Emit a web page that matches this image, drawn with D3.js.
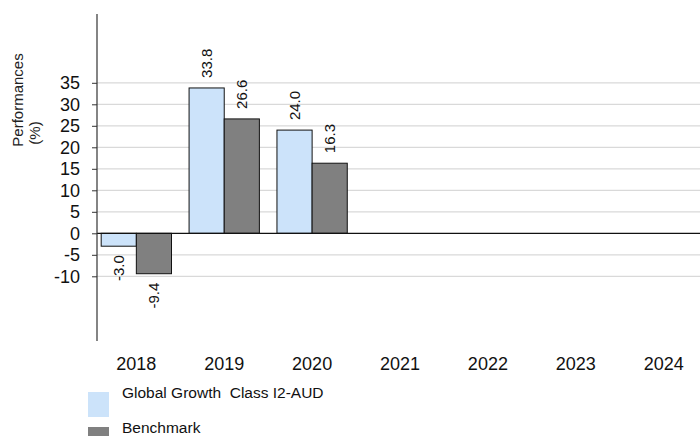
<!DOCTYPE html>
<html>
<head>
<meta charset="utf-8">
<script src="https://cdn.jsdelivr.net/npm/d3@7"></script>
<style>
  body { margin: 0; background: #fff; }
  svg { display: block; font-family: Arial, "Liberation Sans", sans-serif; }
  svg text { white-space: pre; }
</style>
</head>
<body>
<div id="chart"></div>
<script>
// values
let years = ['2018', '2019', '2020', '2021', '2022', '2023', '2024']
let fund = [-3.0, 33.8, 24.0, null, null, null, 0.0]
let bench = [-9.4, 26.6, 16.3, null, null, null, null]
let seriesNames = ['Global Growth  Class I2-AUD', 'Benchmark']
let seriesColors = ['#cce3fa', '#808080']
let yTicks = [-10, -5, 0, 5, 10, 15, 20, 25, 30, 35]

let w = 700
let h = 436
let font = 'Arial, "Liberation Sans", sans-serif'

let svg = d3.select('#chart').append('svg')
  .attr('width', w)
  .attr('height', h)

let y = d3.scaleLinear()
  .domain([-10, 35])
  .range([276.3, 82.8])

let x0 = d3.scaleBand()
  .domain(years)
  .range([92.4, 707.6])
  .paddingInner(0.2)
  .paddingOuter(0.1)

let x1 = d3.scaleBand()
  .domain([0, 1])
  .range([0, x0.bandwidth()])

let axisX = 97

// grid
svg.append('g')
  .selectAll('line')
  .data(yTicks.filter(function (d) { return d !== 0 }))
  .enter().append('line')
  .attr('x1', axisX)
  .attr('x2', w)
  .attr('y1', function (d) { return y(d) })
  .attr('y2', function (d) { return y(d) })
  .attr('stroke', '#d9d9d9')
  .attr('stroke-width', 1.2)

let rows = years.map(function (yr, i) {
  return { year: yr, values: [fund[i], bench[i]] }
})

let group = svg.append('g')
  .selectAll('g')
  .data(rows)
  .enter().append('g')
  .attr('transform', function (d) { return 'translate(' + x0(d.year) + ',0)' })

let cells = group.selectAll('g')
  .data(function (d) {
    return d.values.map(function (v, k) { return { k: k, v: v } })
      .filter(function (c) { return c.v !== null })
  })
  .enter().append('g')

cells.append('rect')
  .attr('x', function (d) { return x1(d.k) })
  .attr('width', x1.bandwidth())
  .attr('y', function (d) { return y(Math.max(0, d.v)) })
  .attr('height', function (d) { return Math.abs(y(d.v) - y(0)) })
  .attr('fill', function (d) { return seriesColors[d.k] })
  .attr('stroke', '#111')
  .attr('stroke-width', 1)

cells.filter(function (d) { return d.v !== 0 })
  .append('text')
  .attr('transform', function (d) {
    let cx = x1(d.k) + x1.bandwidth() / 2
    let cy = d.v > 0 ? y(d.v) - 10 : y(d.v) + 9
    return 'translate(' + cx + ',' + cy + ') rotate(-90)'
  })
  .attr('text-anchor', function (d) { return d.v > 0 ? 'start' : 'end' })
  .attr('dy', '0.35em')
  .attr('font-size', 15)
  .attr('fill', '#111')
  .text(function (d) { return d.v.toFixed(1) })

// zero line
svg.append('line')
  .attr('x1', axisX)
  .attr('x2', w)
  .attr('y1', y(0))
  .attr('y2', y(0))
  .attr('stroke', '#111')
  .attr('stroke-width', 1.2)

// y axis
let yAxis = svg.append('g')
  .attr('transform', 'translate(' + axisX + ',0)')
  .call(d3.axisLeft(y).tickValues(yTicks).tickSize(5).tickPadding(12)
    .tickFormat(function (d) { return String(d) }))
yAxis.attr('font-family', font)
yAxis.select('.domain').remove()
yAxis.selectAll('line').attr('stroke', '#333')
yAxis.selectAll('text').attr('font-size', 18).attr('fill', '#111')

svg.append('line')
  .attr('x1', axisX)
  .attr('x2', axisX)
  .attr('y1', 14)
  .attr('y2', 341)
  .attr('stroke', '#333')
  .attr('stroke-width', 1.2)

// x labels
let xAxis = svg.append('g')
  .attr('transform', 'translate(0,357)')
  .call(d3.axisBottom(x0).tickSize(0).tickPadding(0))
xAxis.attr('font-family', font)
xAxis.select('.domain').remove()
xAxis.selectAll('text').attr('font-size', 18).attr('fill', '#111')

// y title
svg.append('text')
  .attr('transform', 'translate(18,100) rotate(-90)')
  .attr('text-anchor', 'middle')
  .attr('dy', '0.35em')
  .attr('font-size', 15)
  .attr('fill', '#222')
  .text('Performances')
svg.append('text')
  .attr('transform', 'translate(35,133) rotate(-90)')
  .attr('text-anchor', 'middle')
  .attr('dy', '0.35em')
  .attr('font-size', 15)
  .attr('fill', '#222')
  .text('(%)')

// legend
let legend = svg.append('g')
  .selectAll('g')
  .data(seriesNames)
  .enter().append('g')
  .attr('transform', function (d, i) { return 'translate(88,' + (392 + i * 35) + ')' })

legend.append('rect')
  .attr('width', 21)
  .attr('height', 25)
  .attr('fill', function (d, i) { return seriesColors[i] })

legend.append('text')
  .attr('x', 34)
  .attr('y', 5.5)
  .attr('font-size', 15.5)
  .attr('fill', '#111')
  .text(function (d) { return d })
</script>
</body>
</html>
